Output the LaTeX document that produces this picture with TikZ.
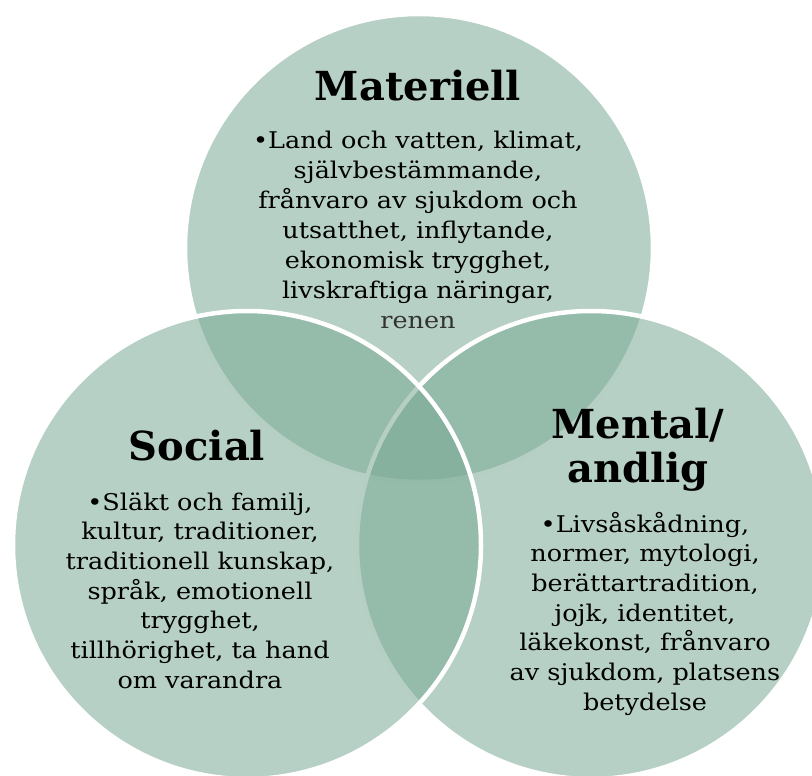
\documentclass[tikz,border=0pt]{standalone}
\usepackage{fontspec}
\setmainfont{DejaVu Serif}
\newfontfamily\bodyfont[FakeStretch=1.11]{DejaVu Serif}
\definecolor{sage}{RGB}{122,169,149}
\tikzset{
  venn/.style={fill=sage, fill opacity=0.55, draw=white, draw opacity=1, line width=4.5pt},
  title/.style={font=\fontsize{40}{44}\selectfont\bfseries, anchor=base, inner sep=0pt, text=black},
  body/.style={font=\bodyfont\fontsize{23}{30}\selectfont, anchor=base, inner sep=0pt, text=black},
}
\begin{document}
\begin{tikzpicture}[x=1pt, y=-1pt]
  \useasboundingbox (0,0) rectangle (812,776);
  % circles, drawn in this order so the outlines overlap correctly
  \begin{scope}
    \clip (0,0) rectangle (812,776);
    \draw[venn] (419,248) circle (234);
    \draw[venn] (591,545) circle (234);
    \draw[venn] (247,545) circle (234);
  \end{scope}

  % Materiell
  \node[title] (mt) at (418,100) {Materiell};
  \foreach \t [count=\i] in {{•Land och vatten, klimat,}, {självbestämmande,},
      {frånvaro av sjukdom och}, {utsatthet, inflytande,}, {ekonomisk trygghet,},
      {livskraftiga näringar,}}
    \node[body] (m\i) at (418,{149+29.8*(\i-1)}) {\t};
  \node[body, text=black!80] (m7) at (418,328) {renen};

  % Social
  \node[title] (st) at (197,460) {Social};
  \foreach \t [count=\i] in {{•Släkt och familj,}, {kultur, traditioner,},
      {traditionell kunskap,}, {språk, emotionell}, {trygghet,},
      {tillhörighet, ta hand}, {om varandra}}
    \node[body] (s\i) at (200,{510+29.7*(\i-1)}) {\t};

  % Mental/andlig
  \node[title] (at1) at (638,438) {Mental/};
  \node[title] (at2) at (638,482) {andlig};
  \foreach \t [count=\i] in {{•Livsåskådning,}, {normer, mytologi,},
      {berättartradition,}, {jojk, identitet,}, {läkekonst, frånvaro},
      {av sjukdom, platsens}, {betydelse}}
    \node[body] (a\i) at (645,{532+29.7*(\i-1)}) {\t};
\end{tikzpicture}
\end{document}
